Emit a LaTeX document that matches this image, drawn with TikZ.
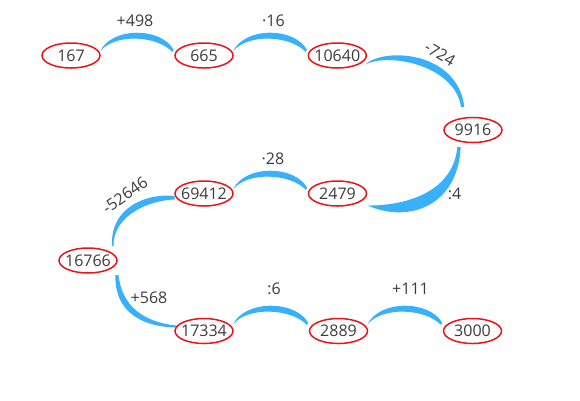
\documentclass[tikz,border=0pt]{standalone}
\usepackage{fontspec}
\setmainfont{Open Sans}
\usetikzlibrary{shapes.geometric,calc,backgrounds}
\definecolor{swblue}{HTML}{38B0FA}
\definecolor{ovred}{HTML}{E8141A}
\definecolor{txt}{HTML}{3C3C3C}
\newcommand\nb[1]{\makebox[0pt]{#1}}
\newcommand\hsw[3]{%
  \fill[swoosh] ($(#1)+(29,{-4+#3})$) .. controls +(12,-25) and +(-13,-22.5) .. ($(#2)+(-30.5,{-6+#3})$)
    -- ($(#2)+(-31.5,{-3.5+#3})$) .. controls +(-16,-17) and +(14,-18) .. ($(#1)+(29,{-4+#3})$) -- cycle;}
\tikzset{
  num/.style={ellipse, draw=ovred, line width=1.5bp, minimum width=58bp, minimum height=25bp,
    inner sep=0pt, text=txt, font=\fontsize{16bp}{19bp}\selectfont},
  oplabel/.style={inner sep=0pt, text=txt, font=\fontsize{16bp}{19bp}\selectfont},
  swoosh/.style={fill=swblue}
}
\begin{document}
\begin{tikzpicture}[x=1bp,y=-1bp]
\useasboundingbox (0,0) rectangle (580,400);
% numbers
\node[num] (n167)   at (71,55.5)    {\nb{167}};
\node[num] (n665)   at (204,55.5)   {\nb{665}};
\node[num] (n10640) at (337.3,55.5) {\nb{10640}};
\node[num] (n9916)  at (473,130)    {\nb{9916}};
\node[num] (n2479)  at (337.5,193.5){\nb{2479}};
\node[num] (n69412) at (204,193.5)  {\nb{69412}};
\node[num] (n16766) at (88,260.5)   {\nb{16766}};
\node[num] (n17334) at (204,331)    {\nb{17334}};
\node[num] (n2889)  at (338.5,331)  {\nb{2889}};
\node[num] (n3000)  at (472.5,331)  {\nb{3000}};
% operation labels
\node[oplabel] (l1) at (135,21)    {+498};
\node[oplabel] (l2) at (273.5,21)  {·16};
\node[oplabel, rotate=-31] (l3) at (440,54) {-724};
\node[oplabel] (l4) at (454.5,194) {:4};
\node[oplabel] (l5) at (273,158.5) {·28};
\node[oplabel, rotate=35] (l6) at (125,195) {-52646};
\node[oplabel] (l7) at (149,297.5) {+568};
\node[oplabel] (l8) at (274,289)   {:6};
\node[oplabel] (l9) at (410.5,289) {+111};
\begin{scope}[on background layer]
\fill[white] (0,0) rectangle (580,400);
\hsw{n167}{n665}{0}
\hsw{n665}{n10640}{0}
\hsw{n69412}{n2479}{0}
\hsw{n17334}{n2889}{-2.5}
\hsw{n2889}{n3000}{-2.5}
% 10640 -> 9916
\fill[swoosh] ($(n10640)+(28,9)$) .. controls +(20,-18) and +(-6.3,-55) .. ($(n9916)+(-8.7,-23)$)
  -- ($(n9916)+(-12,-23)$) .. controls +(-6,-41) and +(25,-12.5) .. ($(n10640)+(28,9)$) -- cycle;
% 9916 -> 2479
\fill[swoosh] ($(n9916)+(-12.3,17)$) .. controls +(-2.7,58) and +(42.5,18.5) .. ($(n2479)+(30,12)$)
  .. controls +(32.5,0.5) and +(-4.3,48) .. ($(n9916)+(-15.7,17)$) -- cycle;
% 2479 -> 69412 -> 16766
\fill[swoosh] ($(n69412)+(-29.5,2.5)$) .. controls +(-24.5,-3) and +(-2,-41) .. ($(n16766)+(24,-14.5)$)
  -- ($(n16766)+(25.5,-14.5)$) .. controls +(-0.5,-31) and +(-24.5,0.5) .. ($(n69412)+(-29.5,6)$) -- cycle;
% 16766 -> 17334
\fill[swoosh] ($(n16766)+(27.5,14.5)$) .. controls +(-1.5,35) and +(-36.5,-0.5) .. ($(n17334)+(-27.5,-3.5)$)
  -- ($(n17334)+(-27.5,-5.5)$) .. controls +(-33.5,-3.5) and +(3.5,31) .. ($(n16766)+(30.5,14.5)$) -- cycle;
\end{scope}
\end{tikzpicture}
\end{document}
